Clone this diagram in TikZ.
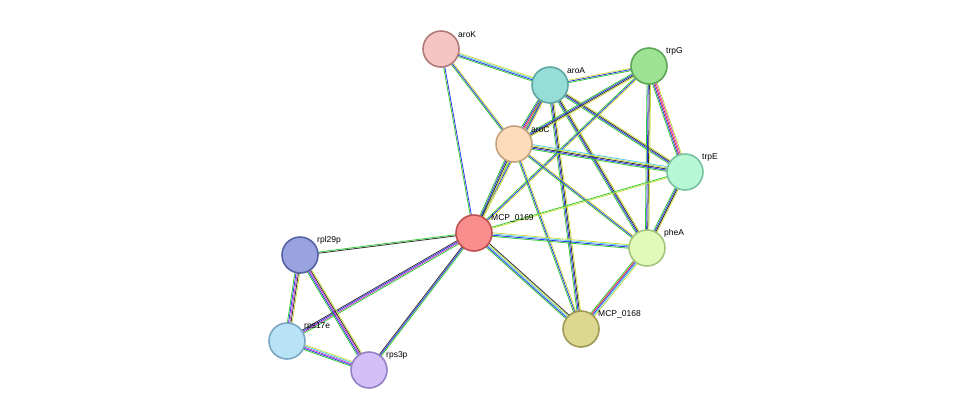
\documentclass[tikz,border=0pt]{standalone}
\usepackage{fontspec}
\setmainfont{Liberation Sans}
\usetikzlibrary{calc,backgrounds}
\definecolor{eg}{HTML}{33CC33}
\definecolor{eb}{HTML}{3333EE}
\definecolor{ec}{HTML}{55CCEE}
\definecolor{ey}{HTML}{CCDD44}
\definecolor{ek}{HTML}{333333}
\definecolor{em}{HTML}{CC44CC}
\definecolor{er}{HTML}{EE3333}
\newcommand{\pedge}[4]{%
  \foreach \cc [count=\ii] in {#4} {%
    \pgfmathsetmacro{\off}{(\ii-(#3+1)/2)*1.2}
    \draw[\cc, line width=0.8pt] ($(#1.center)!\off pt!90:(#2.center)$) -- ($(#2.center)!\off pt!-90:(#1.center)$);
  }}
\tikzset{
  prot/.style={circle, minimum size=36pt, inner sep=0pt, line width=1.6pt},
  lab/.style={anchor=south west, font=\fontsize{8.5pt}{10pt}\selectfont, inner sep=0pt}
}
\begin{document}
\begin{tikzpicture}[x=1pt,y=-1pt]
\useasboundingbox (0,0) rectangle (976,416);
\def\nd#1#2#3#4#5#6{\node[prot, fill=#4, draw=#5] (#1) at (#2,#3) {};
  \node[lab] at ($(#1)+(17,-11)$) {#6};}
\definecolor{f1}{HTML}{F7C4C4}\definecolor{s1}{HTML}{B07A7A}
\definecolor{f2}{HTML}{96DDD8}\definecolor{s2}{HTML}{5AA8A0}
\definecolor{f3}{HTML}{9EE294}\definecolor{s3}{HTML}{5CA656}
\definecolor{f4}{HTML}{FDDCBC}\definecolor{s4}{HTML}{C4A27F}
\definecolor{f5}{HTML}{B6F7D6}\definecolor{s5}{HTML}{78C39E}
\definecolor{f6}{HTML}{FA8E8E}\definecolor{s6}{HTML}{C05050}
\definecolor{f7}{HTML}{E0FBB9}\definecolor{s7}{HTML}{A5C37C}
\definecolor{f8}{HTML}{98A3E0}\definecolor{s8}{HTML}{5562A3}
\definecolor{f9}{HTML}{DCD890}\definecolor{s9}{HTML}{9E9A55}
\definecolor{f10}{HTML}{B8E2F5}\definecolor{s10}{HTML}{7BA6C2}
\definecolor{f11}{HTML}{D4BFF8}\definecolor{s11}{HTML}{9581C7}
\nd{aroK}{441}{49}{f1}{s1}{aroK}
\nd{aroA}{550}{85}{f2}{s2}{aroA}
\nd{trpG}{649}{66}{f3}{s3}{trpG}
\nd{aroC}{514}{144}{f4}{s4}{aroC}
\nd{trpE}{685}{172}{f5}{s5}{trpE}
\nd{m169}{474}{233}{f6}{s6}{MCP\_0169}
\nd{pheA}{647}{248}{f7}{s7}{pheA}
\nd{rpl}{300}{255}{f8}{s8}{rpl29p}
\nd{m168}{581}{329}{f9}{s9}{MCP\_0168}
\nd{r17}{287}{341}{f10}{s10}{rps17e}
\nd{r3}{369}{370}{f11}{s11}{rps3p}
\begin{scope}[on background layer]
\pedge{aroK}{aroA}{4}{eg,eb,ec,ey}
\pedge{aroK}{aroC}{3}{eg,eb,ey}
\pedge{aroK}{m169}{2}{eg,eb}
\pedge{aroA}{trpG}{3}{eg,eb,ey}
\pedge{aroA}{aroC}{5}{eg,eb,er,em,ey}
\pedge{aroA}{trpE}{4}{eg,eb,ek,ey}
\pedge{aroA}{m169}{3}{eg,eb,ey}
\pedge{aroA}{pheA}{4}{eg,eb,ek,ey}
\pedge{aroA}{m168}{4}{eg,eb,ek,ey}
\pedge{trpG}{aroC}{4}{eg,eb,ek,ey}
\pedge{trpG}{trpE}{5}{eg,eb,er,em,ey}
\pedge{trpG}{m169}{3}{eg,eb,ey}
\pedge{trpG}{pheA}{4}{eg,eb,ek,ey}
\pedge{aroC}{trpE}{5}{eg,eb,ek,ey,ec}
\pedge{aroC}{m169}{4}{eg,eb,ek,ey}
\pedge{aroC}{pheA}{3}{eg,eb,ey}
\pedge{aroC}{m168}{3}{eg,eb,ey}
\pedge{trpE}{m169}{2}{eg,ey}
\pedge{trpE}{pheA}{4}{eg,eb,ek,ey}
\pedge{m169}{pheA}{4}{eg,eb,ec,ey}
\pedge{m169}{m168}{5}{eg,eb,ec,ey,ek}
\pedge{pheA}{m168}{5}{eg,er,eb,ec,ey}
\pedge{m169}{rpl}{2}{eg,ek}
\pedge{m169}{r17}{4}{ek,eb,em,eg}
\pedge{m169}{r3}{3}{ek,eb,eg}
\pedge{rpl}{r17}{5}{eg,eb,em,ek,ey}
\pedge{rpl}{r3}{5}{eg,eb,em,ek,ey}
\pedge{r17}{r3}{5}{eg,eb,em,ec,ey}
\end{scope}
\end{tikzpicture}
\end{document}
